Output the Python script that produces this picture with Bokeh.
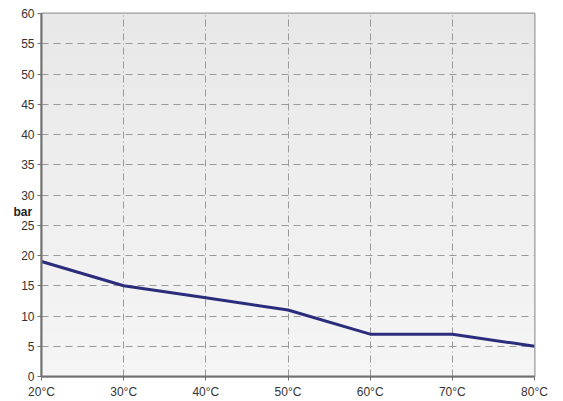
import numpy as np
from bokeh.plotting import figure
from bokeh.models import FixedTicker, Range1d
from bokeh.embed import file_html
from bokeh.resources import INLINE

temps = [20, 30, 40, 50, 60, 70, 80]
temp_labels = ["20°C", "30°C", "40°C", "50°C", "60°C", "70°C", "80°C"]
pressure_bar = [19, 15, 13, 11, 7, 7, 5]
y_ticks = [0, 5, 10, 15, 20, 25, 30, 35, 40, 45, 50, 55, 60]

p = figure(width=563, height=401, output_backend="svg", toolbar_location=None,
           x_range=Range1d(20, 80), y_range=Range1d(0, 60),
           min_border_left=41, min_border_right=29, min_border_top=13, min_border_bottom=25)

# gradient background
n = 64
img = np.zeros((n, 1), dtype=np.uint32)
view = img.view(dtype=np.uint8).reshape((n, 1, 4))
for i in range(n):
    t = i / (n - 1)  # 0 bottom, 1 top
    c = int(round(0xf5 + (0xe8 - 0xf5) * t))
    view[i, 0, 0] = c
    view[i, 0, 1] = c
    view[i, 0, 2] = c
    view[i, 0, 3] = 255
p.image_rgba(image=[img], x=temps[0], y=y_ticks[0], dw=temps[-1] - temps[0], dh=y_ticks[-1] - y_ticks[0], level="image")

p.line(temps, pressure_bar, line_color="#2b2d7c", line_width=3)

p.background_fill_color = "#eeeeee"
p.border_fill_color = "white"
p.outline_line_color = "#9a9a9a"
p.outline_line_width = 2

p.xaxis.ticker = FixedTicker(ticks=temps)
p.xaxis.major_label_overrides = {t: l for t, l in zip(temps, temp_labels)}
p.yaxis.ticker = FixedTicker(ticks=y_ticks)

for ax in (p.xaxis, p.yaxis):
    ax.axis_line_color = "#707070"
    ax.axis_line_width = 2
    ax.major_tick_line_color = "#707070"
    ax.major_tick_out = 4
    ax.major_tick_in = 0
    ax.minor_tick_line_color = None
    ax.major_label_text_font = "Liberation Sans"
    ax.major_label_text_font_size = "12px"
    ax.major_label_text_color = "#333333"
p.xaxis.major_label_standoff = 4
p.yaxis.major_label_standoff = 3

p.yaxis.axis_label = "\n\nbar"
p.yaxis.axis_label_orientation = "horizontal"
p.yaxis.axis_label_standoff = -14
p.yaxis.axis_label_text_font = "Liberation Sans"
p.yaxis.axis_label_text_font_size = "12px"
p.yaxis.axis_label_text_font_style = "bold"
p.yaxis.axis_label_text_color = "#222222"

p.xgrid.grid_line_color = "#999999"
p.xgrid.grid_line_dash = "7 3 1 3"
p.ygrid.grid_line_color = "#999999"
p.ygrid.grid_line_dash = "7 5"

open("out.html", "w").write(file_html(p, INLINE))
